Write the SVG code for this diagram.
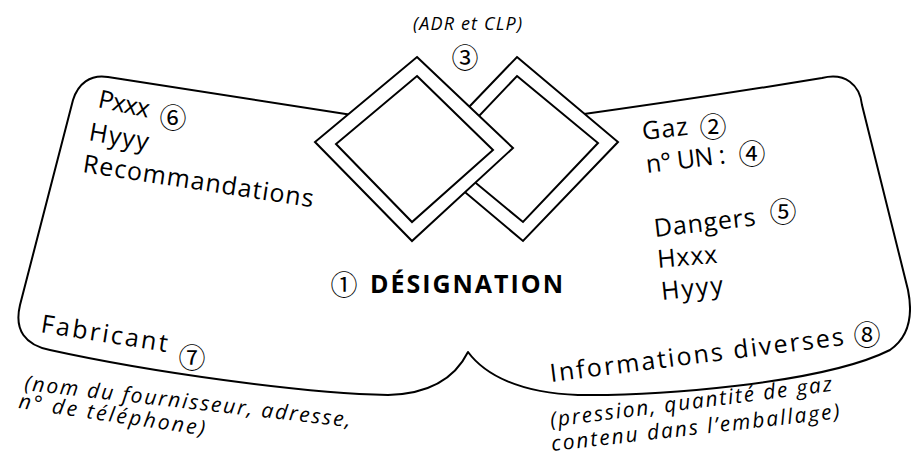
<svg xmlns="http://www.w3.org/2000/svg" width="911" height="457" viewBox="0 0 911 457">
<style>
.ln{fill:none;stroke:#000;stroke-width:2;stroke-linejoin:round;stroke-linecap:round}
.dm{fill:#fff;stroke:#000;stroke-width:2;stroke-linejoin:miter}
.t{font-family:"Open Sans","Noto Sans",sans-serif;font-size:25px;fill:#000}
.b{font-family:"Open Sans","Noto Sans",sans-serif;font-size:25px;font-weight:bold;fill:#000}
.i{font-family:"Open Sans","Noto Sans",sans-serif;font-size:21px;font-style:italic;fill:#000}
.s{font-family:"Open Sans","Noto Sans",sans-serif;font-size:18px;font-style:italic;fill:#000}
.c{font-family:"Noto Sans CJK JP","DejaVu Sans",sans-serif;font-size:27px;fill:#000;text-anchor:middle;dominant-baseline:central}
</style>
<rect width="911" height="457" fill="#fff"/>
<g id="outline">
<path class="ln" d="M 365,117 Q 240,98 108,77 C 90,74 78,84 73,100 L 20,305 C 14,330 25,345 50,350 C 150,372 300,393 388,395 C 430,394 455,378 468,352 C 485,375 520,393 578,395 C 650,396 820,385 890,350 C 912,335 912,310 908,290 L 862,105 C 860,85 845,72 822,78 Q 700,98 570,116"/>
</g>
<g id="pictograms">
<polygon class="dm" points="517,57 618,142 523,241 422,156"/>
<polygon class="dm" points="517,76 598,143 523,222 442,155"/>
<polygon class="dm" points="417,57 513,148 412,241 315,142"/>
<polygon class="dm" points="417,76 493,150 412,222 336,144"/>
</g>
<g id="connectors"></g>
<g id="n3">
<text class="s" x="413" y="30" textLength="109">(ADR et CLP)</text>
<text class="c" x="465" y="56">③</text>
</g>
<g id="n6">
<text class="t" transform="translate(97,107) rotate(12)" textLength="52">Pxxx</text>
<text class="c" x="173" y="116">⑥</text>
<text class="t" transform="translate(88,140) rotate(10)" textLength="60">Hyyy</text>
<text class="t" transform="translate(82,172) rotate(8.7)" textLength="233">Recommandations</text>
</g>
<g id="n2">
<text class="t" transform="translate(643,140) rotate(-6.5)" textLength="46">Gaz</text>
<text class="c" x="713" y="125">②</text>
</g>
<g id="n4">
<text class="t" transform="translate(647,173) rotate(-7)" textLength="80">n° UN :</text>
<text class="c" x="752" y="152">④</text>
</g>
<g id="n5">
<text class="t" transform="translate(655,237) rotate(-6.6)" textLength="102">Dangers</text>
<text class="c" x="783" y="210">⑤</text>
<text class="t" transform="translate(658,268) rotate(-5)" textLength="60">Hxxx</text>
<text class="t" transform="translate(662,300) rotate(-6)" textLength="62">Hyyy</text>
</g>
<g id="n1">
<text class="c" x="344" y="283">①</text>
<text class="b" x="370" y="293" textLength="193">DÉSIGNATION</text>
</g>
<g id="n7">
<text class="t" transform="translate(40,332) rotate(9)" textLength="128">Fabricant</text>
<text class="c" x="192" y="356">⑦</text>
<text class="i" transform="translate(24,390) rotate(6.5)" textLength="328">(nom du fournisseur, adresse,</text>
<text class="i" transform="translate(18,408) rotate(8.4)" textLength="188">n° de téléphone)</text>
</g>
<g id="n8">
<text class="t" transform="translate(551,382) rotate(-7.2)" textLength="296">Informations diverses</text>
<text class="c" x="867" y="333">⑧</text>
<text class="i" transform="translate(551,427) rotate(-7.3)" textLength="284">(pression, quantité de gaz</text>
<text class="i" transform="translate(552,451) rotate(-6.5)" textLength="290">contenu dans l’emballage)</text>
</g>
</svg>
